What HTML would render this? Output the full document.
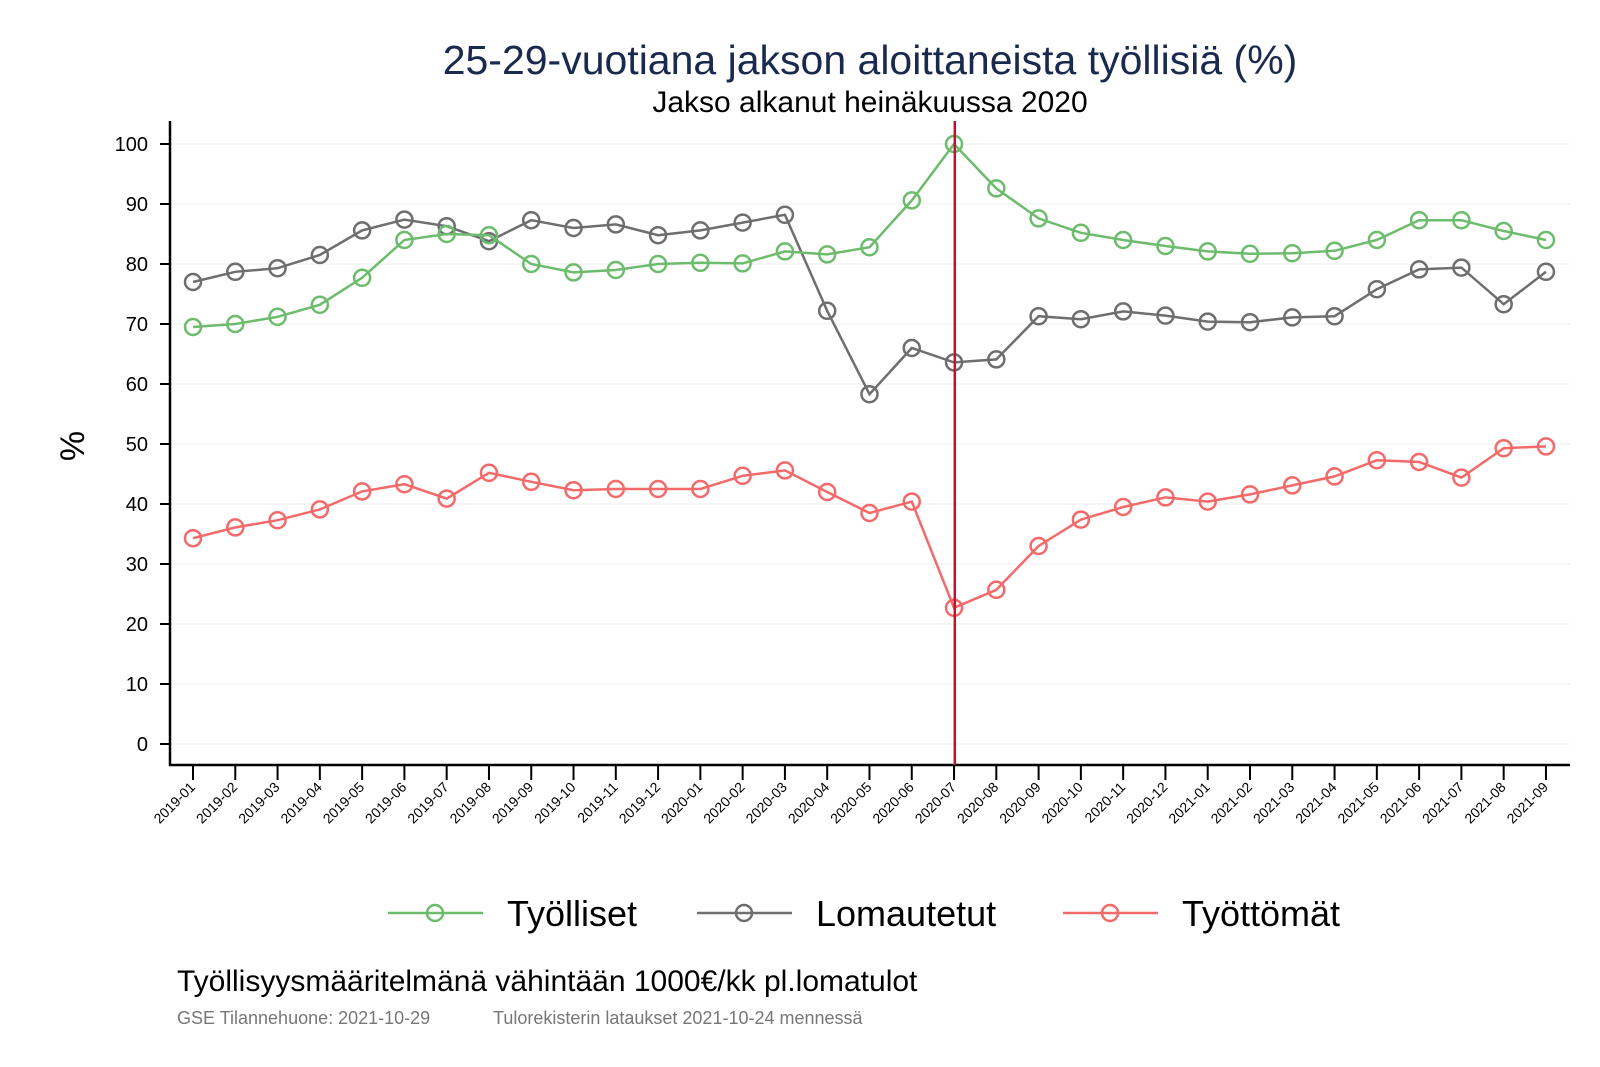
<!DOCTYPE html>
<html><head><meta charset="utf-8"><style>
html,body{margin:0;padding:0;background:#fff;}
svg{display:block;font-family:"Liberation Sans",Arial,sans-serif;}
</style></head><body>
<svg id="s" width="1600" height="1067" viewBox="0 0 1600 1067" xmlns="http://www.w3.org/2000/svg">
<rect width="1600" height="1067" fill="#fff"/>
<text x="870" y="74" text-anchor="middle" font-size="41" fill="#1a2a4f">25-29-vuotiana jakson aloittaneista työllisiä (%)</text>
<text x="870" y="112" text-anchor="middle" font-size="30" fill="#000">Jakso alkanut heinäkuussa 2020</text>
<text transform="translate(84,446) rotate(-90)" text-anchor="middle" font-size="34" fill="#000">%</text>
<g id="g"></g>
<text x="177" y="991" font-size="30" fill="#000">Työllisyysmääritelmänä vähintään 1000€/kk pl.lomatulot</text>
<text x="177" y="1024" font-size="18" fill="#777">GSE Tilannehuone: 2021-10-29</text>
<text x="493" y="1024" font-size="18" fill="#777">Tulorekisterin lataukset 2021-10-24 mennessä</text>
</svg>
<script>
var g=document.getElementById('g'),h='';
function Y(v){return 744-6*v;}
function X(i){return 193+i*42.28;}
for(var v=0;v<=100;v+=10){
 h+='<line x1="171" x2="1570" y1="'+Y(v)+'" y2="'+Y(v)+'" stroke="#eee" stroke-width="1"/>';
 h+='<line x1="160" x2="171" y1="'+Y(v)+'" y2="'+Y(v)+'" stroke="#000" stroke-width="2"/>';
 h+='<text x="148" y="'+(Y(v)+7)+'" text-anchor="end" font-size="20">'+v+'</text>';
}
h+='<line x1="170" x2="170" y1="121" y2="766" stroke="#000" stroke-width="2.5"/>';
h+='<line x1="169" x2="1570" y1="765" y2="765" stroke="#000" stroke-width="2.5"/>';
var labs=[];
for(var i=0;i<33;i++){var y=2019+Math.floor(i/12),m=i%12+1;labs.push(y+'-'+(m<10?'0':'')+m);}
for(var i=0;i<33;i++){
 h+='<line x1="'+X(i)+'" x2="'+X(i)+'" y1="765" y2="780" stroke="#000" stroke-width="2"/>';
 h+='<text transform="translate('+(X(i)+3)+',788) rotate(-45)" text-anchor="end" font-size="14">'+labs[i]+'</text>';
}
var G=[69.5,70,71.2,73.2,77.7,84,85,84.8,80,78.6,79,80,80.2,80.1,82.1,81.6,82.8,90.6,100,92.6,87.6,85.2,84,83,82.1,81.7,81.8,82.2,84,87.3,87.3,85.5,84];
var K=[77,78.7,79.3,81.5,85.6,87.4,86.3,83.8,87.3,86,86.6,84.8,85.6,86.9,88.2,72.2,58.3,66,63.6,64.1,71.3,70.8,72.1,71.4,70.4,70.3,71.1,71.3,75.8,79.1,79.4,73.3,78.7];
var R=[34.3,36.1,37.3,39.1,42.1,43.3,40.9,45.2,43.7,42.3,42.5,42.5,42.5,44.7,45.6,42,38.5,40.4,22.7,25.7,33,37.4,39.5,41.1,40.4,41.6,43.1,44.6,47.3,47,44.4,49.3,49.6];
function ser(d,c){var p=d.map(function(v,i){return X(i).toFixed(1)+','+Y(v).toFixed(1)}).join(' ');
 h+='<polyline points="'+p+'" fill="none" stroke="'+c+'" stroke-width="2.5"/>';
 d.forEach(function(v,i){h+='<circle cx="'+X(i)+'" cy="'+Y(v)+'" r="8" fill="none" stroke="'+c+'" stroke-width="2.5"/>';});}
ser(K,'#6e6e6e');ser(G,'#6dbb6d');ser(R,'#f46a6a');
h+='<line x1="954.8" x2="954.8" y1="121" y2="765" stroke="#c8102e" stroke-width="2.5"/>';
function leg(x,c,t){h+='<line x1="'+x+'" x2="'+(x+95)+'" y1="913" y2="913" stroke="'+c+'" stroke-width="2.5"/><circle cx="'+(x+47)+'" cy="913" r="8" fill="none" stroke="'+c+'" stroke-width="2.5"/><text x="'+(x+119)+'" y="926" font-size="36">'+t+'</text>';}
leg(388,'#6dbb6d','Työlliset');leg(697,'#6e6e6e','Lomautetut');leg(1063,'#f46a6a','Työttömät');
g.innerHTML=h;
</script>
</body></html>
